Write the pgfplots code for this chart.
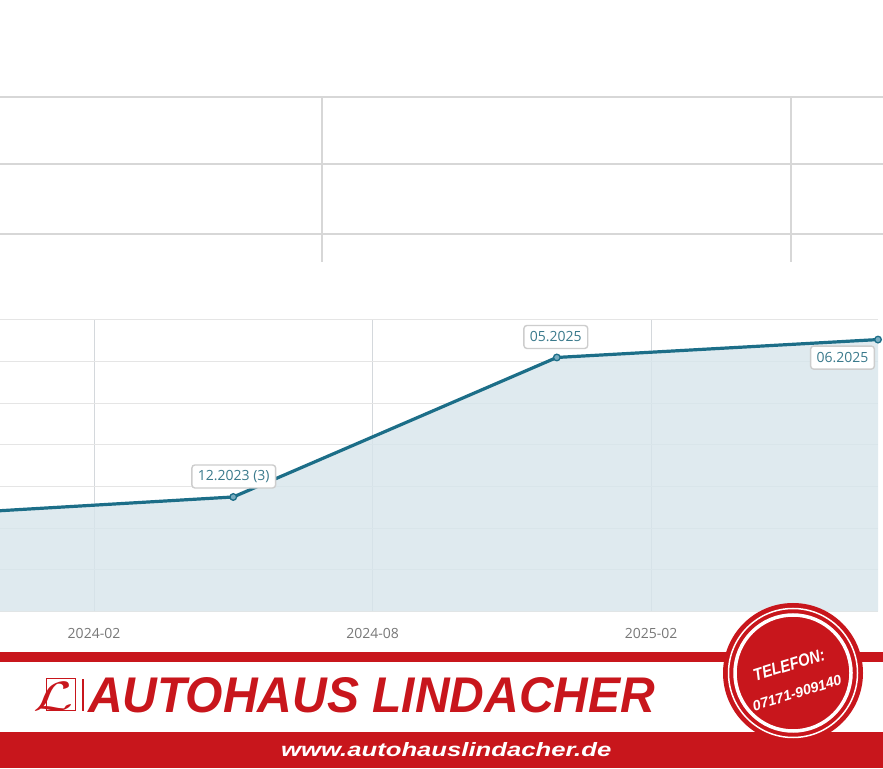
\documentclass[border=0pt]{standalone}
\usepackage{pgfplots}
\pgfplotsset{compat=1.18}
\usepackage{graphicx}
\usepackage{fontspec}
\setmainfont{Open Sans}
\newfontfamily\lib{Liberation Sans}
\newfontfamily\libserif{Liberation Serif}
\definecolor{teal1}{RGB}{28,110,136}
\definecolor{fillc}{RGB}{215,229,236}
\definecolor{markfill}{RGB}{120,172,192}
\definecolor{hgrid}{RGB}{229,229,229}
\definecolor{vgrid}{RGB}{212,216,220}
\definecolor{tgrid}{RGB}{215,215,215}
\definecolor{tickc}{RGB}{120,120,120}
\definecolor{lblc}{RGB}{58,122,140}
\definecolor{lblborder}{RGB}{205,205,205}
\definecolor{red1}{RGB}{200,22,28}
\begin{document}
\begin{tikzpicture}[x=1pt,y=1pt,
  lbl/.style={draw=lblborder, line width=1.4pt, rounded corners=3pt, fill=white,
    text=lblc, font=\fontsize{14}{16}\selectfont, inner xsep=6pt, inner ysep=5pt,
    text height=11pt, text depth=2pt}]
\useasboundingbox[fill=white] (0,0) rectangle (883,768);
\clip (0,0) rectangle (883,768);
% remnant of the table above the chart
\begin{scope}[draw=tgrid, line width=1.3pt]
\draw (0,671) -- (883,671);
\draw (0,604) -- (883,604);
\draw (0,534) -- (883,534);
\draw (322,671) -- (322,506);
\draw (791,671) -- (791,506);
\end{scope}

\begin{axis}[at={(0pt,156.5pt)}, anchor=south west, scale only axis,
  width=878pt, height=291.5pt,
  xmin=-2.025, xmax=16.889, ymin=0, ymax=7,
  xtick={0,6,12}, xticklabels={2024-02,2024-08,2025-02},
  ytick={0,1,2,3,4,5,6,7}, yticklabels={},
  major tick length=0pt,
  axis line style={draw=none},
  grid=major,
  x grid style={color=vgrid, line width=1pt},
  y grid style={color=hgrid, line width=1pt},
  xticklabel style={font=\fontsize{14}{16}\selectfont, text=tickc, anchor=base, yshift=-27pt},
  clip=false]
\addplot[fill=fillc, fill opacity=0.8, draw=none] coordinates {
  (-2.025,2.42) (3,2.75) (9.97,6.10) (16.889,6.53)} \closedcycle;
\addplot[teal1, line width=3.2pt, mark=*, mark phase=2, mark repeat=1,
  mark size=3.3pt, mark options={line width=1.3pt, fill=markfill, draw=teal1}] coordinates {
  (-2.025,2.42) (3,2.75) (9.97,6.10) (16.889,6.53)};
\addplot[draw=none, mark=none, point meta=explicit symbolic, nodes near coords,
  visualization depends on={\thisrow{dx}\as\dx},
  visualization depends on={\thisrow{dy}\as\dy},
  nodes near coords style={lbl, anchor=center, xshift=\dx pt, yshift=\dy pt}]
  table[col sep=comma, meta=label] {
x,y,dx,dy,label
3,2.75,0.5,20.5,12.2023 (3)
9.97,6.10,-1,20.5,05.2025
16.889,6.53,-35.5,-18,06.2025
};
\end{axis}

% banner
\fill[red1] (0,106) rectangle (883,116);
\fill[red1] (0,0) rectangle (883,36);
\node[anchor=base west, inner sep=0, text=red1] at (88,56)
  {\resizebox{567pt}{35pt}{\lib\bfseries\itshape AUTOHAUS LINDACHER}};
\node[anchor=base west, inner sep=0, text=white] at (281,12)
  {\resizebox{330pt}{14pt}{\lib\bfseries\itshape www.autohauslindacher.de}};
\draw[red1, line width=1pt] (46,57) rectangle (75,89);
\node[text=red1, inner sep=0] at (54,72) {\resizebox{40pt}{28pt}{$\mathcal{L}$}};
\draw[red1, line width=1.3pt] (83,57) -- (83,89);
% phone seal
\fill[red1] (793,95) circle (70);
\draw[white, line width=1.5pt] (793,95) circle (64.5);
\draw[white, line width=3.5pt] (793,95) circle (58);
\node[rotate=17, text=white, inner sep=0] at (789,103)
  {\resizebox{74pt}{12pt}{\lib\bfseries\itshape TELEFON:}};
\node[rotate=17, text=white, inner sep=0] at (797,75)
  {\resizebox{92pt}{10pt}{\lib\bfseries\itshape 07171-909140}};
\end{tikzpicture}
\end{document}
